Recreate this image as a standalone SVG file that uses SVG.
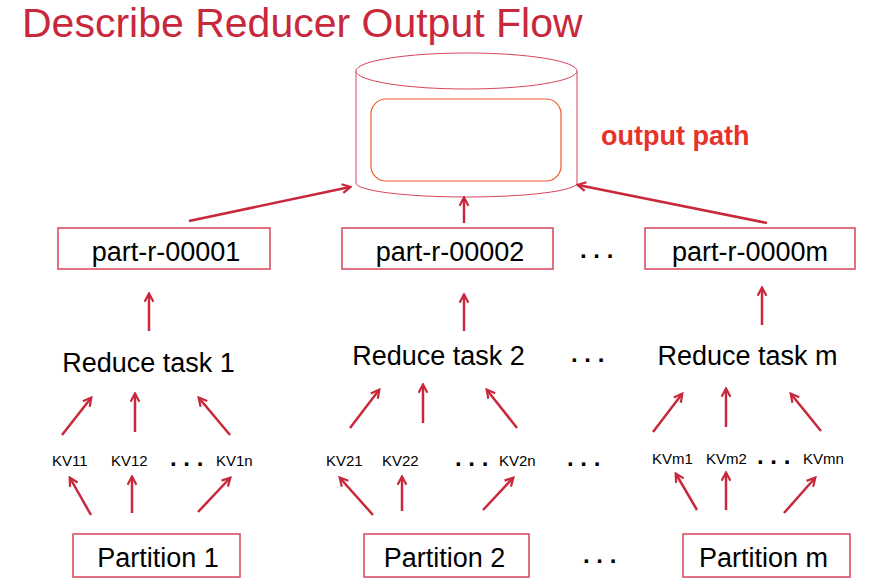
<svg xmlns="http://www.w3.org/2000/svg" width="875" height="587" viewBox="0 0 875 587">
<style>
text { font-family: "Liberation Sans", Arial, sans-serif; fill: #000; }
.title { font-size: 41px; fill: #c8283c; }
.out { font-size: 27px; font-weight: bold; fill: #e8312a; }
.lbl { font-size: 27px; text-anchor: middle; }
.kv { font-size: 15px; }
.dots { font-size: 24px; font-weight: bold; }
.box { fill: #fff; stroke: #d9435a; stroke-width: 1.5; }
.cyl { fill: #fff; stroke: #d9435a; stroke-width: 1; }
.inner { fill: none; stroke: #f05a28; stroke-width: 1.2; }
.arr { stroke: #c8283c; stroke-width: 2.5; fill: none; marker-end: url(#ah); }
</style>
<defs>
<marker id="ah" viewBox="0 0 10 10" refX="8" refY="5" markerWidth="11" markerHeight="11" markerUnits="userSpaceOnUse" orient="auto">
<path d="M1,1 L8.5,5 L1,9" fill="none" stroke="#c8283c" stroke-width="2"/>
</marker>
</defs>
<rect width="875" height="587" fill="#fff"/>
<text class="title" x="22" y="37">Describe Reducer Output Flow</text>

<g id="output">
<path class="cyl" d="M356,71 L356,183 A110.5,14 0 0 0 577,183 L577,71"/>
<ellipse class="cyl" cx="466.5" cy="71" rx="110.5" ry="18"/>
<rect class="inner" x="371" y="99" width="190" height="82" rx="15"/>
<text class="out" x="601" y="145">output path</text>
</g>

<g id="part1"><rect class="box" x="58" y="228" width="212" height="41"/><text class="lbl" x="166" y="261">part-r-00001</text></g>
<g id="part2"><rect class="box" x="342" y="228" width="211" height="41"/><text class="lbl" x="450" y="261">part-r-00002</text></g>
<g id="partm"><rect class="box" x="645" y="228" width="210" height="41"/><text class="lbl" x="750" y="261">part-r-0000m</text></g>
<text class="dots" x="580" y="258">. . .</text>

<g id="reduce1"><text class="lbl" x="148.5" y="372">Reduce task 1</text></g>
<g id="reduce2"><text class="lbl" x="438.5" y="365">Reduce task 2</text></g>
<g id="reducem"><text class="lbl" x="747.5" y="365">Reduce task m</text></g>
<text class="dots" x="571" y="362">. . .</text>

<g id="kv1">
<text class="kv" x="52" y="466">KV11</text>
<text class="kv" x="111" y="466">KV12</text>
<text class="dots" x="170" y="466">. . .</text>
<text class="kv" x="216" y="466">KV1n</text>
</g>
<g id="kv2">
<text class="kv" x="326" y="466">KV21</text>
<text class="kv" x="382" y="466">KV22</text>
<text class="dots" x="455" y="466">. . .</text>
<text class="kv" x="499" y="466">KV2n</text>
<text class="dots" x="567" y="466">. . .</text>
</g>
<g id="kvm">
<text class="kv" x="652" y="464">KVm1</text>
<text class="kv" x="706" y="464">KVm2</text>
<text class="dots" x="757" y="464">. . .</text>
<text class="kv" x="803" y="464">KVmn</text>
</g>

<g id="partition1"><rect class="box" x="73" y="534" width="167" height="43"/><text class="lbl" x="158" y="567">Partition 1</text></g>
<g id="partition2"><rect class="box" x="364" y="534" width="165" height="43"/><text class="lbl" x="444.5" y="567">Partition 2</text></g>
<g id="partitionm"><rect class="box" x="683" y="534" width="167" height="43"/><text class="lbl" x="763.5" y="567">Partition m</text></g>
<text class="dots" x="583" y="563">. . .</text>

<g id="connectors">
<line class="arr" x1="189" y1="221" x2="350" y2="187"/>
<line class="arr" x1="464" y1="223" x2="464" y2="198"/>
<line class="arr" x1="767" y1="223" x2="578" y2="185"/>

<line class="arr" x1="149" y1="331" x2="149" y2="294"/>
<line class="arr" x1="464" y1="331" x2="464" y2="295"/>
<line class="arr" x1="762" y1="325" x2="762" y2="288"/>

<line class="arr" x1="62" y1="435" x2="91" y2="398"/>
<line class="arr" x1="135" y1="432" x2="135" y2="394"/>
<line class="arr" x1="230" y1="435" x2="199" y2="398"/>
<line class="arr" x1="350" y1="428" x2="379" y2="390"/>
<line class="arr" x1="423" y1="423" x2="423" y2="385"/>
<line class="arr" x1="517" y1="428" x2="487" y2="390"/>
<line class="arr" x1="653" y1="432" x2="682" y2="394"/>
<line class="arr" x1="726" y1="427" x2="726" y2="389"/>
<line class="arr" x1="821" y1="431" x2="791" y2="394"/>

<line class="arr" x1="91" y1="515" x2="70" y2="478"/>
<line class="arr" x1="132" y1="513" x2="132" y2="477"/>
<line class="arr" x1="198" y1="512" x2="230" y2="478"/>
<line class="arr" x1="373" y1="515" x2="340" y2="478"/>
<line class="arr" x1="402" y1="511" x2="402" y2="477"/>
<line class="arr" x1="483" y1="510" x2="513" y2="478"/>
<line class="arr" x1="697" y1="510" x2="676" y2="474"/>
<line class="arr" x1="726" y1="510" x2="726" y2="473"/>
<line class="arr" x1="784" y1="513" x2="815" y2="478"/>
</g>
</svg>
